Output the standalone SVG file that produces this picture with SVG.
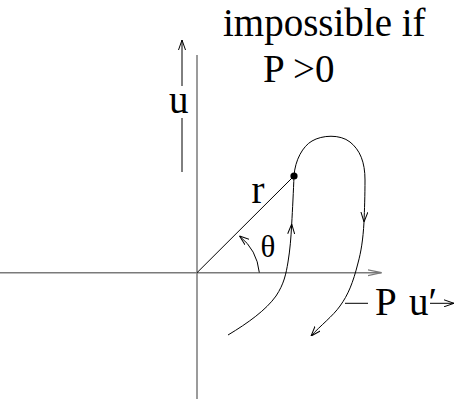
<svg xmlns="http://www.w3.org/2000/svg" width="455" height="399" viewBox="0 0 455 399">
<style>
.axis{stroke:#7a7a7a;stroke-width:1.5;fill:none}
.ln{stroke:#000;stroke-width:1;fill:none}
.t{font-family:"Liberation Serif","Times New Roman",serif;font-size:39px;fill:#000}
</style>
<defs>
<marker id="ah" viewBox="0 0 10 8" refX="10" refY="4" markerWidth="10" markerHeight="8" markerUnits="userSpaceOnUse" orient="auto"><path d="M0,0.5 L10,4 L0,7.5" fill="none" stroke="#000" stroke-width="1"/></marker>
<marker id="ahg" viewBox="0 0 14 8" refX="14" refY="4" markerWidth="14" markerHeight="8" markerUnits="userSpaceOnUse" orient="auto"><path d="M0,1 L14,4 L0,7" fill="none" stroke="#7a7a7a" stroke-width="1.3"/></marker>
</defs>
<g id="axes">
<line class="axis" x1="197" y1="55" x2="197" y2="399"/>
<line class="axis" x1="0" y1="272.7" x2="381.5" y2="272.7" marker-end="url(#ahg)"/>
</g>
<g id="labels">
<text class="t" x="223" y="36">impossible if</text>
<text class="t" x="263" y="82">P &gt;0</text>
<line class="ln" x1="182" y1="86" x2="182" y2="40" marker-end="url(#ah)"/>
<text class="t" x="169" y="113">u</text>
<line class="ln" x1="182" y1="118" x2="182" y2="172"/>
<text class="t" x="251.5" y="203">r</text>
<text class="t" x="260.5" y="256.5" style="font-size:31px">θ</text>
<line class="ln" x1="345" y1="303.3" x2="368" y2="303.3"/>
<text class="t" x="375" y="314.5">P<tspan x="409">u′</tspan></text>
<line class="ln" x1="430" y1="303.3" x2="454" y2="303.3" marker-end="url(#ah)"/>
</g>
<g id="connectors">
<line class="ln" x1="197" y1="272.7" x2="294" y2="176"/>
<path class="ln" d="M259.3,272.5 Q257,250 239.5,236" marker-end="url(#ah)"/>
<path class="ln" d="M228,335 C248,323 266,310 276,296 C284,284 286,274 288,262 C290,250 291,238 291.7,224" marker-end="url(#ah)"/>
<path class="ln" d="M291.7,224 C292.5,210 293.5,190 294,176 C295,160 303,146 312,141 C322,135 340,134 350,142 C360,150 365,162 365,180 C365,195 364.5,210 364,222" marker-end="url(#ah)"/>
<path class="ln" d="M364,222 C363,240 361,252 358,263 C353,283 348,295 340,306 C333,316 320,326 311,336" marker-end="url(#ah)"/>
</g>
<g id="point">
<circle cx="294" cy="176" r="3.6" fill="#000"/>
</g>
</svg>
